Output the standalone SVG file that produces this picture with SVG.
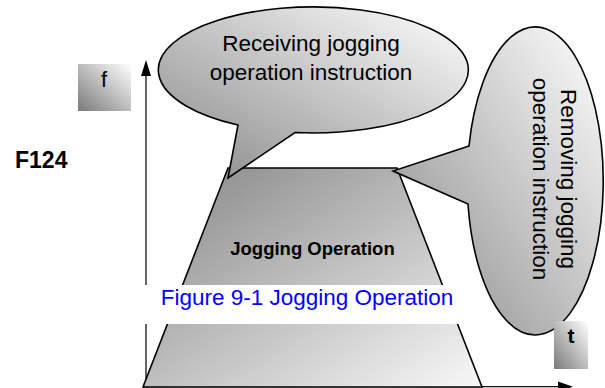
<svg xmlns="http://www.w3.org/2000/svg" width="605" height="388" viewBox="0 0 605 388">
<defs>
<style>
.txt{font-family:"Liberation Sans",Arial,sans-serif;fill:#000}
.shape{stroke:#000;stroke-width:1.6;stroke-linejoin:miter}
.axis{stroke:#111;stroke-width:1.3;fill:none}
</style>
<linearGradient id="gCallout" x1="0" y1="1" x2="1" y2="0">
<stop offset="0" stop-color="#888"/>
<stop offset="1" stop-color="#fff"/>
</linearGradient>
<linearGradient id="gTrap" x1="0" y1="0" x2="1" y2="1">
<stop offset="0" stop-color="#858585"/>
<stop offset="1" stop-color="#f8f8f8"/>
</linearGradient>
<linearGradient id="gBox" x1="0" y1="1" x2="1" y2="0">
<stop offset="0" stop-color="#7a7a7a"/>
<stop offset="1" stop-color="#fff"/>
</linearGradient>
</defs>
<rect width="605" height="388" fill="#fff"/>

<g id="axes">
<line class="axis" x1="146" y1="74" x2="146" y2="388"/>
<polygon points="146,60 141,76 151,76" fill="#000"/>
<line class="axis" x1="143" y1="386.7" x2="560" y2="386.7"/>
<polygon points="573,386.7 558,381.5 558,392" fill="#000"/>
</g>

<g id="f-label">
<rect x="78" y="64" width="53" height="47" fill="url(#gBox)"/>
<text class="txt" x="104" y="87" font-size="22" text-anchor="middle">f</text>
</g>

<g id="F124">
<text class="txt" x="15" y="168" font-size="23" font-weight="bold">F124</text>
</g>

<g id="jogging-operation">
<polygon class="shape" points="228,168 397,168 482,387 143,387" fill="url(#gTrap)"/>
<text class="txt" x="312.5" y="255" font-size="18.5" font-weight="bold" text-anchor="middle">Jogging Operation</text>
</g>

<g id="caption">
<rect x="140" y="285" width="322" height="39" fill="#fff"/>
<text x="307" y="305" font-size="22.5" fill="#0000ff" text-anchor="middle" font-family="'Liberation Sans',Arial,sans-serif">Figure 9-1 Jogging Operation</text>
</g>

<g id="receiving-callout">
<path class="shape" d="M238,125 L228,178 L295,132.5 A155,63 0 1 0 238,125 Z" fill="url(#gCallout)"/>
<text class="txt" x="311" y="51" font-size="22.5" text-anchor="middle">Receiving jogging</text>
<text class="txt" x="311" y="80" font-size="22.5" text-anchor="middle">operation instruction</text>
</g>

<g id="removing-callout">
<path class="shape" d="M469,146 L393,171 L468,204 A68,154 0 1 0 469,146 Z" fill="url(#gCallout)"/>
<g transform="translate(547,179) rotate(90)">
<text class="txt" x="0" y="-14" font-size="22.5" text-anchor="middle">Removing jogging</text>
<text class="txt" x="0" y="14" font-size="22.5" text-anchor="middle">operation instruction</text>
</g>
</g>

<g id="t-label">
<rect x="554" y="321" width="34" height="48" fill="url(#gBox)"/>
<text class="txt" x="571" y="343" font-size="21" font-weight="bold" text-anchor="middle">t</text>
</g>
</svg>
